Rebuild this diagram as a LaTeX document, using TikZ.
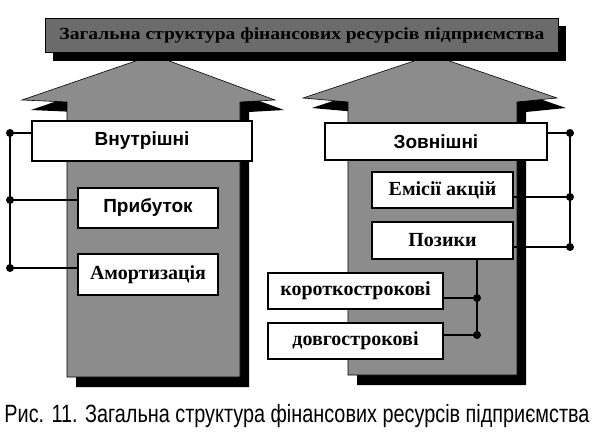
\documentclass[tikz,border=0pt]{standalone}
\usepackage{fontspec}
\setmainfont{Liberation Serif}
\newfontfamily\arialb{Liberation Sans}
\begin{document}
\begin{tikzpicture}[x=1pt,y=-1pt,
  box/.style={draw=black, line width=1.6pt, fill=white, inner sep=0pt, anchor=center},
  sertxt/.style={font=\fontsize{20}{20}\selectfont\bfseries},
  santxt/.style={font=\fontsize{19}{19}\selectfont\arialb\bfseries},
  conn/.style={line width=1.6pt},
  dot/.style={fill=black, circle, inner sep=0pt, minimum size=8pt},
  shade/.style={fill=black},
  face/.style={fill=black!45, draw=black, line width=0.6pt}]
\useasboundingbox (0,0) rectangle (594,438);
% shadows of arrows
\fill[shade] (76,387) -- (76,112) -- (31,110) -- (162,65) -- (284,110) -- (249,112) -- (249,387) -- cycle;
\fill[shade] (357,385) -- (357,112) -- (312,108) -- (441,65) -- (566,108) -- (526,112) -- (526,385) -- cycle;
% arrows
\path[face] (67,377) -- (67,102) -- (22,100) -- (153,55) -- (275,100) -- (240,102) -- (240,377) -- cycle;
\path[face] (348,375) -- (348,102) -- (303,98) -- (432,55) -- (557,98) -- (517,102) -- (517,375) -- cycle;
% banner
\fill[shade] (53,26) rectangle (566,61);
\path[face, fill=black!58] (45,18) rectangle (558,52);
\node[font=\fontsize{17}{17}\selectfont\bfseries, text=black] (title) at (302,35)
  {\resizebox{485pt}{\height}{Загальна структура фінансових ресурсів підприємства}};
% boxes
\node[box, santxt, minimum width=220pt, minimum height=40pt] (vn) at (142,141) {Внутрішні};
\node[box, santxt, minimum width=140pt, minimum height=40pt] (pr) at (148,208) {Прибуток};
\node[box, sertxt, minimum width=140pt, minimum height=41pt] (am) at (148,274.5) {Амортизація};
\node[box, santxt, minimum width=222pt, minimum height=37pt] (zo) at (436,141.5) {Зовнішні};
\node[box, sertxt, minimum width=141pt, minimum height=36pt] (em) at (442.5,190) {Емісії акцій};
\node[box, sertxt, minimum width=141pt, minimum height=37pt] (po) at (442.5,240.5) {Позики};
\node[box, sertxt, minimum width=175pt, minimum height=36pt] (ko) at (355.5,291) {короткострокові};
\node[box, sertxt, minimum width=175pt, minimum height=36pt] (do) at (355.5,341) {довгострокові};
% left bus
\coordinate (l1) at (10,133);
\coordinate (l2) at (10,200);
\coordinate (l3) at (10,268);
\draw[conn] (l1) -- (l3);
\draw[conn] (l1) -- (l1 -| vn.west);
\draw[conn] (l2) -- (l2 -| pr.west);
\draw[conn] (l3) -- (l3 -| am.west);
\node[dot] at (l1) {};
\node[dot] at (l2) {};
\node[dot] at (l3) {};
% right bus
\coordinate (r1) at (570,133);
\coordinate (r2) at (570,197);
\coordinate (r3) at (570,247);
\draw[conn] (r1) -- (r3);
\draw[conn] (r1) -- (r1 -| zo.east);
\draw[conn] (r2) -- (r2 -| em.east);
\draw[conn] (r3) -- (r3 -| po.east);
\node[dot] at (r1) {};
\node[dot] at (r2) {};
\node[dot] at (r3) {};
% loans split
\coordinate (p0) at (477,259);
\coordinate (p1) at (477,298);
\coordinate (p2) at (477,335);
\draw[conn] (po.south -| p0) -- (p2);
\draw[conn] (p1) -- (p1 -| ko.east);
\draw[conn] (p2) -- (p2 -| do.east);
\node[dot] at (p1) {};
\node[dot] at (p2) {};
% caption
\node[font=\fontsize{25}{25}\selectfont\arialb] (cap) at (297,416)
  {\resizebox{585pt}{\height}{Рис. 11. Загальна структура фінансових ресурсів підприємства}};
\end{tikzpicture}
\end{document}
